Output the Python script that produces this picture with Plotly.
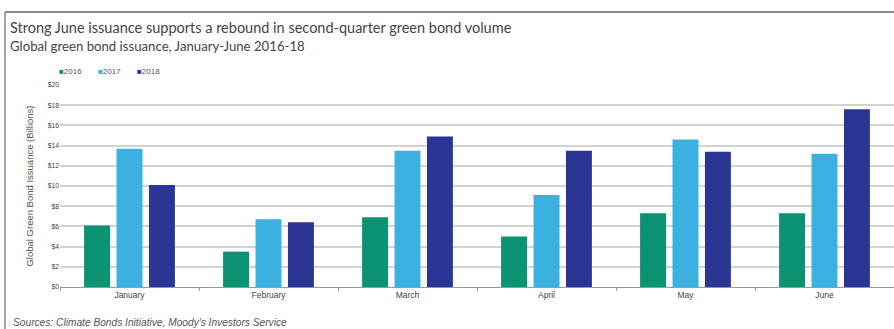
import plotly.graph_objects as go

months = ["January", "February", "March", "April", "May", "June"]
years = ["2016", "2017", "2018"]
v2016 = [6.1, 3.5, 6.9, 5.0, 7.3, 7.3]
v2017 = [13.7, 6.7, 13.5, 9.1, 14.6, 13.2]
v2018 = [10.1, 6.4, 14.9, 13.5, 13.4, 17.6]
colors = ["#0b9373", "#3bb1e2", "#2b3593"]
tickvals = list(range(0, 21, 2))
ticktext = ["$%d" % v for v in tickvals]

fig = go.Figure()
for name, vals, c in zip(years, [v2016, v2017, v2018], colors):
    fig.add_trace(go.Bar(x=months, y=vals, name=name, marker=dict(color=c, line=dict(width=0))))

W, H = 894, 329
L, R, T, B = 60, 0, 85, 42
pw, ph = W - L - R, H - T - B

def px(x):
    return (x - L) / pw

def py(y):
    return (H - B - y) / ph

legend_x = [57, 96, 135]
annotations = [
    dict(text="Strong June issuance supports a rebound in second-quarter green bond volume",
         xref="paper", yref="paper", x=px(8), y=py(28), xanchor="left", yanchor="middle",
         showarrow=False, font=dict(family="Lato", size=14.5, color="#444")),
    dict(text="Global green bond issuance, January-June 2016-18",
         xref="paper", yref="paper", x=px(8), y=py(46), xanchor="left", yanchor="middle",
         showarrow=False, font=dict(family="Lato", size=13.2, color="#444")),
    dict(text="<i>Sources: Climate Bonds Initiative, Moody's Investors Service</i>",
         xref="paper", yref="paper", x=px(11), y=py(322), xanchor="left", yanchor="middle",
         showarrow=False, font=dict(size=10.2, color="#555")),
]
for lx, name, c in zip(legend_x, years, colors):
    annotations.append(dict(
        text="<span style='color:%s'>■</span>%s" % (c, name),
        xref="paper", yref="paper", x=px(lx), y=py(72), xanchor="left", yanchor="middle",
        showarrow=False, font=dict(size=8, color="#555")))

fig.update_layout(
    width=W, height=H,
    margin=dict(l=L, r=R, t=T, b=B),
    paper_bgcolor="white", plot_bgcolor="white",
    barmode="group", bargap=0.3, bargroupgap=0.2,
    font=dict(family="Liberation Sans, Arial", color="#444"),
    showlegend=False,
    xaxis=dict(showgrid=False, showline=True, linecolor="#999", linewidth=1,
               ticks="outside", tickson="boundaries", ticklen=3, tickcolor="#999",
               tickfont=dict(size=8.5, color="#444"), fixedrange=True),
    yaxis=dict(range=[0, 20], tickvals=tickvals, ticktext=ticktext,
               showgrid=True, gridcolor="#d2d2d2", gridwidth=1.6,
               zeroline=True, zerolinecolor="#999", zerolinewidth=1,
               tickfont=dict(size=6.8, color="#444"), ticklen=0,
               title=dict(text="Global Green Bond Issuance (Billions)", font=dict(size=9.5, color="#555"), standoff=12)),
    shapes=[
        dict(type="line", xref="paper", yref="paper", x0=px(5), x1=px(W + 2), y0=py(12), y1=py(12),
             line=dict(color="#666", width=1.5)),
        dict(type="line", xref="paper", yref="paper", x0=px(5), x1=px(5), y0=py(12), y1=py(H + 2),
             line=dict(color="#888", width=1.5)),
    ],
    annotations=annotations,
)
fig.write_html("out.html")
